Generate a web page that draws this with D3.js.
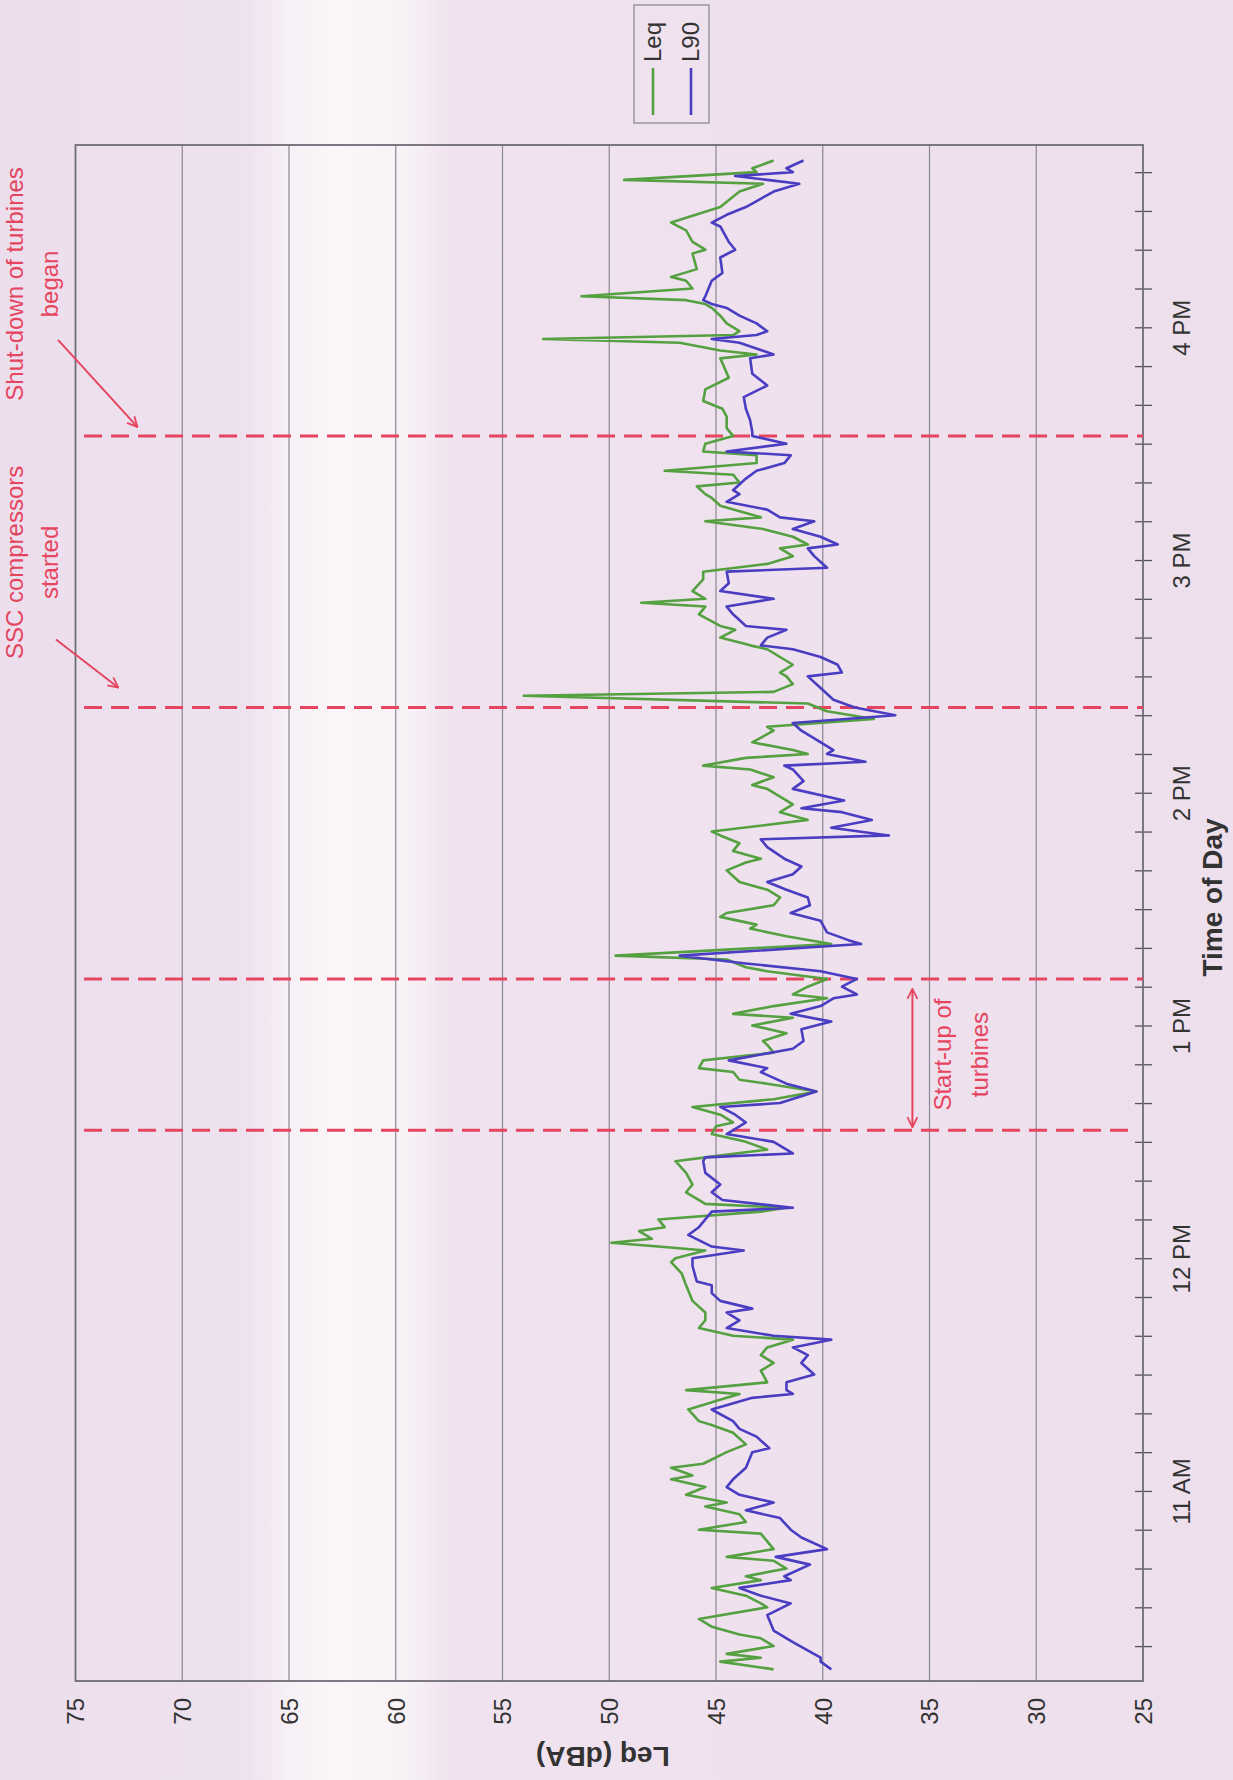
<!DOCTYPE html>
<html>
<head>
<meta charset="utf-8">
<script src="https://cdn.jsdelivr.net/npm/d3@7"></script>
<style>
  body { margin: 0; background: #eedfec; }
  text { font-family: "Liberation Sans", Arial, sans-serif; }
</style>
</head>
<body>
<div id="chart"></div>
<script>
/* Leq / L90 noise levels through the day (scanned chart, drawn turned on its side) */

const leqTimes = ["10:14","10:16","10:17","10:18","10:20","10:22","10:23","10:25","10:27","10:30","10:31","10:33","10:35","10:37","10:38","10:40","10:42","10:43","10:45","10:47","10:49","10:50","10:52","10:54","10:56","10:57","10:59","11:01","11:03","11:04","11:06","11:07","11:10","11:12","11:15","11:17","11:18","11:21","11:24","11:25","11:26","11:28","11:31","11:33","11:35","11:37","11:39","11:40","11:42","11:44","11:46","11:49","11:53","11:56","11:59","12:00","12:02","12:03","12:04","12:05","12:07","12:08","12:10","12:12","12:13","12:14","12:17","12:19","12:22","12:25","12:26","12:28","12:30","12:32","12:34","12:35","12:37","12:39","12:41","12:43","12:45","12:46","12:48","12:49","12:51","12:53","12:55","12:56","12:58","13:00","13:02","13:03","13:05","13:07","13:08","13:10","13:12","13:14","13:15","13:17","13:18","13:21","13:23","13:25","13:26","13:28","13:29","13:31","13:33","13:35","13:37","13:40","13:42","13:43","13:45","13:47","13:49","13:50","13:53","13:55","13:57","13:59","14:01","14:02","14:04","14:06","14:07","14:09","14:10","14:11","14:13","14:16","14:17","14:19","14:21","14:23","14:25","14:26","14:28","14:30","14:31","14:33","14:35","14:37","14:38","14:40","14:42","14:43","14:46","14:48","14:49","14:50","14:52","14:55","14:57","14:59","15:01","15:03","15:04","15:06","15:08","15:10","15:11","15:14","15:16","15:17","15:19","15:20","15:22","15:23","15:25","15:27","15:28","15:30","15:32","15:34","15:37","15:39","15:41","15:44","15:47","15:52","15:53","15:54","15:56","15:57","15:58","15:59","16:01","16:03","16:05","16:06","16:07","16:08","16:10","16:12","16:13","16:15","16:19","16:20","16:22","16:25","16:27","16:31","16:35","16:37","16:38","16:40","16:41","16:43"];
const leqValues = [42.3,44.8,42.9,44.5,42.3,42.9,43.9,45.2,45.8,42.6,42.9,43.6,45.2,42.9,43.6,41.7,42.3,44.5,42.3,42.6,42.9,45.8,43.6,43.9,45.5,44.5,46.4,45.5,47.1,46.1,47.1,45.6,44.5,43.6,44.2,45.2,45.8,46.3,44.5,43.9,46.4,42.6,42.9,42.3,42.9,42.6,41.4,44.2,45.8,45.5,45.5,46.1,46.4,46.6,47.1,46.9,45.5,47.7,49.9,48.0,48.6,47.4,47.7,42.9,41.7,45.5,46.4,46.1,46.4,46.9,45.5,42.6,43.6,45.2,45.0,44.2,44.8,46.1,42.3,40.3,42.6,43.9,44.2,45.8,45.6,42.3,42.6,42.8,41.7,43.3,41.4,44.2,42.3,39.8,41.4,40.7,39.8,42.6,43.6,44.5,49.7,39.6,41.7,43.4,43.1,44.8,44.5,42.3,42.0,42.6,43.9,44.5,43.6,42.9,44.2,43.9,44.8,45.2,40.7,42.0,41.4,42.0,42.6,43.3,42.3,43.4,45.6,43.6,40.7,41.4,43.3,42.3,42.6,37.6,39.8,40.7,54.0,42.3,41.4,41.7,42.0,41.4,42.0,42.6,43.4,44.8,44.1,44.8,45.8,45.5,48.5,45.5,46.1,45.6,45.6,42.6,41.4,42.0,40.7,41.4,42.8,45.5,42.9,44.8,45.2,45.5,45.9,43.9,44.2,47.4,43.1,43.1,45.6,45.5,44.2,44.5,44.5,44.7,45.6,45.5,44.4,44.8,43.1,44.8,46.7,53.1,44.2,43.9,44.5,44.8,45.2,45.5,46.4,51.3,46.1,46.4,47.1,45.9,46.1,45.5,46.1,46.4,47.1,44.8,43.9,42.8,49.3,43.1,43.3,42.3];

const l90Times = ["10:14","10:16","10:17","10:21","10:24","10:28","10:31","10:33","10:35","10:37","10:38","10:41","10:43","10:45","10:48","10:50","10:53","10:55","10:57","10:59","11:01","11:03","11:06","11:10","11:11","11:14","11:16","11:18","11:21","11:24","11:25","11:26","11:28","11:30","11:33","11:35","11:37","11:39","11:40","11:42","11:44","11:46","11:47","11:49","11:51","11:53","11:54","11:58","12:00","12:02","12:03","12:06","12:08","12:12","12:13","12:15","12:17","12:19","12:22","12:25","12:26","12:27","12:30","12:32","12:34","12:35","12:37","12:39","12:40","12:43","12:45","12:48","12:49","12:51","12:54","12:56","12:59","13:01","13:03","13:05","13:07","13:08","13:10","13:12","13:14","13:16","13:18","13:21","13:22","13:24","13:27","13:29","13:31","13:33","13:35","13:37","13:39","13:41","13:43","13:46","13:48","13:49","13:51","13:53","13:55","13:56","13:58","14:01","14:03","14:06","14:07","14:08","14:10","14:11","14:14","14:16","14:18","14:20","14:22","14:24","14:27","14:30","14:31","14:33","14:35","14:37","14:38","14:40","14:42","14:43","14:46","14:48","14:50","14:52","14:54","14:57","14:58","15:01","15:03","15:04","15:06","15:08","15:10","15:11","15:13","15:15","15:17","15:18","15:21","15:23","15:25","15:27","15:28","15:30","15:32","15:33","15:36","15:39","15:42","15:45","15:48","15:52","15:53","15:56","15:57","15:58","15:59","16:01","16:03","16:05","16:06","16:07","16:08","16:12","16:14","16:18","16:20","16:22","16:26","16:27","16:29","16:31","16:35","16:37","16:38","16:39","16:40","16:41","16:43"];
const l90Values = [39.6,40.1,40.1,41.4,42.3,42.6,41.5,42.9,43.9,41.5,41.8,40.6,42.2,39.8,41.0,41.5,42.0,43.6,42.3,43.9,44.5,44.2,43.6,43.3,42.5,43.1,43.9,44.2,45.2,43.3,41.4,41.7,41.7,40.4,41.0,40.7,41.4,39.6,42.3,44.5,43.9,44.5,43.3,44.8,45.2,45.2,45.9,46.1,46.1,43.7,45.2,46.3,45.8,45.2,41.4,44.7,45.2,44.8,45.5,45.6,45.5,41.4,42.3,44.5,43.9,43.6,44.1,44.8,42.0,40.3,41.7,42.9,42.6,44.4,41.4,40.9,41.0,39.6,41.5,40.1,39.5,38.4,39.1,38.4,40.1,43.6,46.7,38.2,38.8,39.8,40.1,41.5,40.6,40.7,41.7,42.6,41.4,41.0,41.8,42.6,42.9,36.9,39.6,37.7,39.1,41.0,39.0,41.4,40.9,41.4,41.8,38.0,39.8,39.5,40.4,41.0,41.4,36.6,38.5,39.5,40.1,40.7,39.1,39.3,40.1,41.4,42.9,42.6,41.7,43.6,44.2,44.5,42.3,44.8,44.4,44.5,39.8,40.4,40.7,39.3,40.1,41.4,40.4,42.0,42.6,44.5,43.9,44.2,43.6,43.1,41.8,41.5,44.5,41.7,43.3,43.3,43.4,43.6,43.7,42.6,43.3,43.4,42.3,43.9,45.2,43.1,42.6,43.1,43.9,44.5,45.2,45.6,45.5,45.2,44.7,44.8,44.1,44.4,44.8,45.2,44.5,43.6,42.3,41.1,42.6,44.1,41.4,41.7,40.9];

const dbTicks = [75, 70, 65, 60, 55, 50, 45, 40, 35, 30, 25];
const timeStart = "10:11", timeEnd = "16:47";
// start-up begins, start-up ends, SSC compressors started, shut-down began
const eventTimes = ["12:33", "13:12", "14:22", "15:32"];
const seriesNames = ["Leq", "L90"];
const seriesColors = ["#55a040", "#4a3dc2"];

const width = 1233, height = 1780;
const margin = {top: 145, right: 90, bottom: 99, left: 75.5};
const red = "#e6455f";

const parseTime = d3.timeParse("%H:%M");
const leq = leqTimes.map((t, i) => ({t: parseTime(t), v: leqValues[i]}));
const l90 = l90Times.map((t, i) => ({t: parseTime(t), v: l90Values[i]}));

const svg = d3.select("#chart")
    .append("svg")
    .attr("width", width)
    .attr("height", height);

// paper colour of the scan, with the lighter band
const defs = svg.append("defs");
const paper = defs.append("linearGradient").attr("id", "paper");
[[0, "#ecdeec"], [0.2, "#efe2ef"], [0.235, "#f7f0f6"], [0.27, "#faf6f9"], [0.33, "#f8f2f7"], [0.365, "#f0e3ef"], [1, "#eddfec"]]
    .forEach(s => paper.append("stop").attr("offset", s[0]).attr("stop-color", s[1]));
svg.append("rect").attr("width", width).attr("height", height).attr("fill", "url(#paper)");

const x = d3.scaleLinear()
    .domain([75, 25])
    .range([margin.left, width - margin.right]);

const y = d3.scaleTime()
    .domain([parseTime(timeStart), parseTime(timeEnd)])
    .range([height - margin.bottom, margin.top]);

// grid
svg.append("g")
    .selectAll("line")
    .data(dbTicks.slice(1, -1))
    .join("line")
    .attr("x1", d => x(d)).attr("x2", d => x(d))
    .attr("y1", margin.top).attr("y2", height - margin.bottom)
    .attr("stroke", "#8a8794")
    .attr("stroke-width", 1.2);

// dBA axis along the bottom, labels turned
const xAxis = g => g
    .attr("transform", `translate(0,${height - margin.bottom})`)
    .call(d3.axisBottom(x).tickValues(dbTicks).tickSize(0).tickPadding(0))
    .call(g => g.select(".domain").remove())
    .call(g => g.selectAll("text")
        .attr("transform", "rotate(-90)")
        .attr("x", -17).attr("y", 0).attr("dy", "0.35em")
        .attr("text-anchor", "end")
        .attr("font-size", 24)
        .attr("font-family", "Liberation Sans, Arial, sans-serif")
        .attr("fill", "#333"));

svg.append("g").call(xAxis);

// time axis on the right
const hourFmt = d3.timeFormat("%-I %p");
const yAxis = g => g
    .attr("transform", `translate(${width - margin.right},0)`)
    .call(d3.axisRight(y)
        .tickValues(d3.timeMinute.every(10).range(parseTime("10:20"), parseTime("16:41")))
        .tickSize(9)
        .tickFormat(d => d.getMinutes() === 0 ? hourFmt(d) : ""))
    .call(g => g.select(".domain").remove())
    .call(g => g.selectAll(".tick line").attr("x1", -8).attr("stroke", "#555").attr("stroke-width", 1.3))
    .call(g => g.selectAll("text")
        .attr("transform", "translate(39,0) rotate(-90)")
        .attr("x", 0).attr("y", 0).attr("dy", "0.35em")
        .attr("text-anchor", "middle")
        .attr("font-size", 24)
        .attr("font-family", "Liberation Sans, Arial, sans-serif")
        .attr("fill", "#333"));

svg.append("g").call(yAxis);

// plot frame
svg.append("rect")
    .attr("x", margin.left).attr("y", margin.top)
    .attr("width", width - margin.right - margin.left)
    .attr("height", height - margin.bottom - margin.top)
    .attr("fill", "none")
    .attr("stroke", "#6e6c78")
    .attr("stroke-width", 1.8);

// axis titles
svg.append("text")
    .attr("transform", `translate(1212,${y(parseTime("13:33"))}) rotate(-90)`)
    .attr("text-anchor", "middle").attr("dy", "0.35em")
    .attr("font-size", 28).attr("font-weight", "bold").attr("fill", "#333")
    .text("Time of Day");

svg.append("text")
    .attr("transform", `translate(${x(50.3)},1757) rotate(180)`)
    .attr("text-anchor", "middle").attr("dy", "0.35em")
    .attr("font-size", 28).attr("font-weight", "bold").attr("fill", "#333")
    .text("Leq (dBA)");

// event lines
svg.append("g")
    .selectAll("line")
    .data(eventTimes)
    .join("line")
    .attr("x1", x(74.6))
    .attr("x2", (d, i) => i === 0 ? x(25.7) : x(25))
    .attr("y1", d => y(parseTime(d))).attr("y2", d => y(parseTime(d)))
    .attr("stroke", red)
    .attr("stroke-width", 3)
    .attr("stroke-dasharray", "18,9");

// series
const line = d3.line()
    .x(d => x(d.v))
    .y(d => y(d.t));

[leq, l90].forEach((s, i) => {
    svg.append("path")
        .datum(s)
        .attr("fill", "none")
        .attr("stroke", seriesColors[i])
        .attr("stroke-width", 2.6)
        .attr("stroke-linejoin", "round")
        .attr("d", line);
});

// arrows
defs.append("marker")
    .attr("id", "head")
    .attr("viewBox", "0 0 12 12")
    .attr("refX", 11).attr("refY", 6)
    .attr("markerWidth", 12).attr("markerHeight", 12)
    .attr("markerUnits", "userSpaceOnUse")
    .attr("orient", "auto-start-reverse")
    .append("path")
    .attr("d", "M1,1 L11,6 L1,11")
    .attr("fill", "none")
    .attr("stroke", red)
    .attr("stroke-width", 1.8);

const arrow = (x1, y1, x2, y2, both) => svg.append("line")
    .attr("x1", x1).attr("y1", y1).attr("x2", x2).attr("y2", y2)
    .attr("stroke", red).attr("stroke-width", 2)
    .attr("marker-end", "url(#head)")
    .attr("marker-start", both ? "url(#head)" : null);

const tUp = y(parseTime(eventTimes[0])), tDone = y(parseTime(eventTimes[1]));
const tSsc = y(parseTime(eventTimes[2])), tShut = y(parseTime(eventTimes[3]));

arrow(58, tShut - 96, x(72.1), tShut - 9);
arrow(56, tSsc - 68, x(73.0), tSsc - 20);
arrow(x(35.8), tDone + 10, x(35.8), tUp - 3, true);

// annotation text
const vText = (str, cx, cy) => svg.append("text")
    .attr("transform", `translate(${cx},${cy}) rotate(-90)`)
    .attr("text-anchor", "middle").attr("dy", "0.35em")
    .attr("font-size", 24).attr("fill", red)
    .text(str);

vText("Shut-down of turbines", 15, tShut - 152);
vText("began", 50, tShut - 152);
vText("SSC compressors", 15, tSsc - 145);
vText("started", 50, tSsc - 145);
vText("Start-up of", 943, (tUp + tDone) / 2);
vText("turbines", 980, (tUp + tDone) / 2);

// legend
const legend = svg.append("g");
legend.append("rect")
    .attr("x", 634).attr("y", 5).attr("width", 75).attr("height", 118)
    .attr("fill", "none").attr("stroke", "#9c98a2").attr("stroke-width", 1.5);

seriesNames.forEach((name, i) => {
    const lx = 653 + i * 38;
    legend.append("line")
        .attr("x1", lx).attr("x2", lx).attr("y1", 68).attr("y2", 115)
        .attr("stroke", seriesColors[i]).attr("stroke-width", 2.6);
    legend.append("text")
        .attr("transform", `translate(${lx},62) rotate(-90)`)
        .attr("dy", "0.35em").attr("font-size", 24).attr("fill", "#333")
        .text(name);
});
</script>
</body>
</html>
